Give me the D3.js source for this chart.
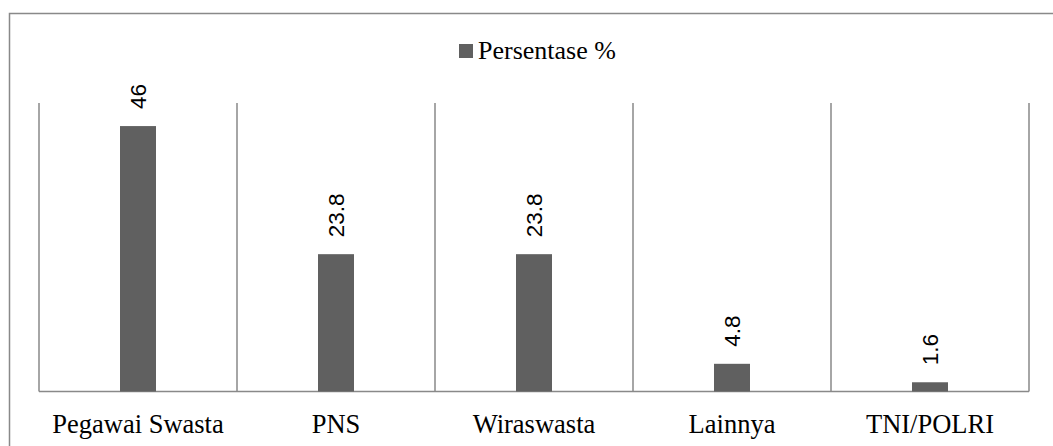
<!DOCTYPE html>
<html>
<head>
<meta charset="utf-8">
<script src="https://cdn.jsdelivr.net/npm/d3@7"></script>
<style>
  html, body { margin: 0; padding: 0; background: #fff; }
  svg { display: block; }
</style>
</head>
<body>
<svg id="chart" width="1053" height="446"></svg>
<script>
// Occupation categories and their share (%)
const categories = ["Pegawai Swasta", "PNS", "Wiraswasta", "Lainnya", "TNI/POLRI"];
const values = [46, 23.8, 23.8, 4.8, 1.6];
const valueLabels = ["46", "23.8", "23.8", "4.8", "1.6"];
const seriesName = "Persentase %";
const yDomain = [0, 50];

const svg = d3.select("#chart");
const W = 1053, H = 446;

const plot = { left: 39, right: 1029, top: 103, bottom: 391.5 };
const gridColor = "#898989";
const barColor = "#606060";

// Outer chart border (extends past the right and bottom edges of the view)
svg.append("rect")
  .attr("x", 9.5).attr("y", 13.5)
  .attr("width", W + 20).attr("height", H + 20)
  .attr("fill", "none")
  .attr("stroke", gridColor)
  .attr("stroke-width", 1.5);

const x = d3.scaleBand()
  .domain(categories)
  .range([plot.left, plot.right])
  .paddingInner(0).paddingOuter(0);

const y = d3.scaleLinear()
  .domain(yDomain)
  .range([plot.bottom, plot.top]);

const barW = 36;

// Category separators
const seps = categories.map(c => x(c)).concat([plot.right]);
svg.append("g").selectAll("line")
  .data(seps)
  .join("line")
  .attr("x1", d => d).attr("x2", d => d)
  .attr("y1", plot.top).attr("y2", plot.bottom)
  .attr("stroke", gridColor)
  .attr("stroke-width", 1.5);

// Baseline
svg.append("line")
  .attr("x1", plot.left).attr("x2", plot.right)
  .attr("y1", plot.bottom).attr("y2", plot.bottom)
  .attr("stroke", gridColor)
  .attr("stroke-width", 1.5);

// Bars
svg.append("g").selectAll("rect")
  .data(values)
  .join("rect")
  .attr("x", (d, i) => x(categories[i]) + x.bandwidth() / 2 - barW / 2)
  .attr("y", d => y(d))
  .attr("width", barW)
  .attr("height", d => y(0) - y(d))
  .attr("fill", barColor);

// Value labels, rotated
svg.append("g").selectAll("text")
  .data(values)
  .join("text")
  .attr("transform", (d, i) => {
    const cx = x(categories[i]) + x.bandwidth() / 2;
    return `translate(${cx},${y(d) - 17}) rotate(-90)`;
  })
  .attr("dy", "0.37em")
  .attr("text-anchor", "start")
  .attr("font-family", "'Liberation Sans', Arial, sans-serif")
  .attr("font-size", 22.5)
  .attr("fill", "#000")
  .text((d, i) => valueLabels[i]);

// Category axis labels
svg.append("g").selectAll("text")
  .data(categories)
  .join("text")
  .attr("x", d => x(d) + x.bandwidth() / 2)
  .attr("y", 432.5)
  .attr("text-anchor", "middle")
  .attr("font-family", "'Liberation Serif', 'Times New Roman', serif")
  .attr("font-size", 26.5)
  .attr("fill", "#000")
  .text(d => d);

// Legend
const legend = svg.append("g");
legend.append("rect")
  .attr("x", 459).attr("y", 44)
  .attr("width", 14).attr("height", 14)
  .attr("fill", barColor);
legend.append("text")
  .attr("x", 478).attr("y", 59)
  .attr("font-family", "'Liberation Serif', 'Times New Roman', serif")
  .attr("font-size", 26)
  .attr("fill", "#000")
  .text(seriesName);
</script>
</body>
</html>
